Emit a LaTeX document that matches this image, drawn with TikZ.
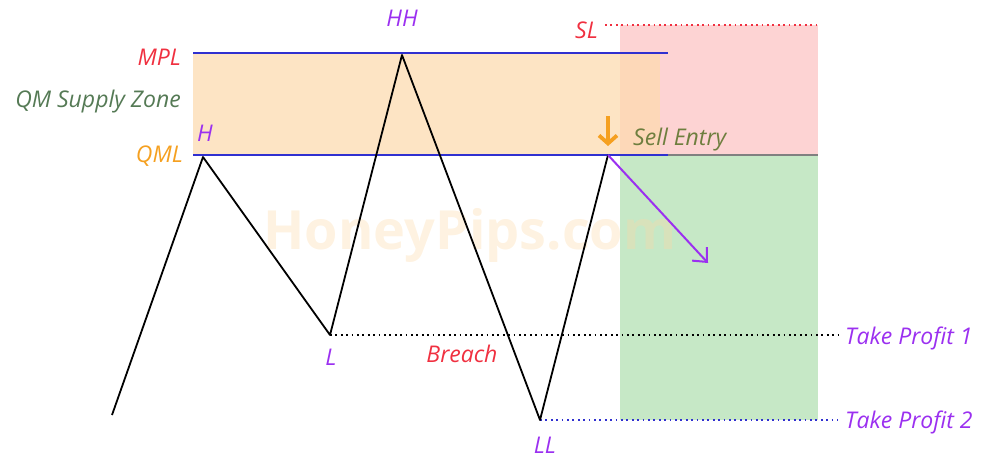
\documentclass[tikz,border=0pt]{standalone}
\usepackage{fontspec}
\setmainfont{Open Sans}
\usetikzlibrary{positioning,calc,arrows.meta}
\definecolor{zonefill}{HTML}{FDDBB0}
\definecolor{slfill}{HTML}{FDD3D3}
\definecolor{tpfill}{HTML}{C6E8C6}
\definecolor{lvlblue}{HTML}{3030D0}
\definecolor{ptpurple}{HTML}{9B30F0}
\definecolor{lblred}{HTML}{F03040}
\definecolor{lblorange}{HTML}{F5A020}
\definecolor{lblgreen}{HTML}{557A55}
\definecolor{entrygreen}{HTML}{6E7E3E}
\definecolor{wmark}{HTML}{FBD9A8}

\begin{document}
\begin{tikzpicture}[x=1pt,y=-1pt,
    lbl/.style={inner sep=0pt,font=\itshape\fontsize{23}{26}\selectfont},
    ptlbl/.style={lbl,text=ptpurple},
    level/.style={lvlblue,line width=1.8pt},
    tpline/.style={line width=1.8pt,dash pattern=on 1.8pt off 3.6pt},
    price/.style={black,line width=1.8pt,line join=round}]
    \useasboundingbox (0,0) rectangle (983,458);

    % zones
    \fill[slfill] (620,25) rectangle (818,155);
    \fill[tpfill] (620,155) rectangle (818,420);
    \fill[zonefill,opacity=0.75] (193,53) rectangle (660,155);

    % watermark
    \node[font=\bfseries\fontsize{54}{58}\selectfont,text=wmark,opacity=0.35] (wm) at (470,235) {HoneyPips.com};

    % swing points
    \coordinate (start) at (112,415);
    \coordinate (h) at (203,157);
    \coordinate (l) at (330,335);
    \coordinate (hh) at (402,55);
    \coordinate (ll) at (540,420);
    \coordinate (entry) at (608,155);
    \coordinate (target) at (708,263);
    \coordinate (tp1end) at (838,335);
    \coordinate (tp2end) at (838,420);

    % levels
    \draw[level] (193,53) coordinate (mplL) -- (668,53);
    \draw[level] (193,155) coordinate (qmlL) -- (668,155) coordinate (qmlR);
    \draw[gray,line width=1.2pt] (qmlR) -- (818,155);
    \draw[lblred,tpline] (605,25) coordinate (slL) -- (818,25);
    \draw[black,tpline] (l) -- (tp1end);
    \draw[lvlblue,tpline] (ll) -- (tp2end);

    % price path
    \draw[price] (start) -- (h) -- (l) -- (hh) -- (ll) -- (entry);
    \draw[ptpurple,line width=2pt,-{Straight Barb[length=11pt,width=20pt]}] (entry) -- (target);
    \draw[lblorange,line width=3.8pt,-{Straight Barb[length=8pt,width=18pt,line width=3.8pt]}] (608,116) -- (608,146);

    % labels
    \node[lbl,text=lblred,anchor=east] (mpl) at (181,57) {MPL};
    \node[lbl,text=lblgreen,anchor=east] (zone) at (181,102) {QM Supply Zone};
    \node[lbl,text=lblorange,anchor=east] (qml) at (183,156) {QML};
    \node[lbl,text=lblred,anchor=east] (sl) at (598,30) {SL};
    \node[lbl,text=entrygreen,anchor=west] (sell) at (633,140) {Sell Entry};
    \node[lbl,text=lblred] (breach) at (462,354) {Breach};
    \node[ptlbl,anchor=west] (tp1) at (845,338) {Take Profit 1};
    \node[ptlbl,anchor=west] (tp2) at (845,422) {Take Profit 2};
    \node[ptlbl] (hlbl) at (205,133) {H};
    \node[ptlbl] (llbl) at (331,357) {L};
    \node[ptlbl] (hhlbl) at (402,18) {HH};
    \node[ptlbl] (lllbl) at (545,445) {LL};
\end{tikzpicture}
\end{document}
